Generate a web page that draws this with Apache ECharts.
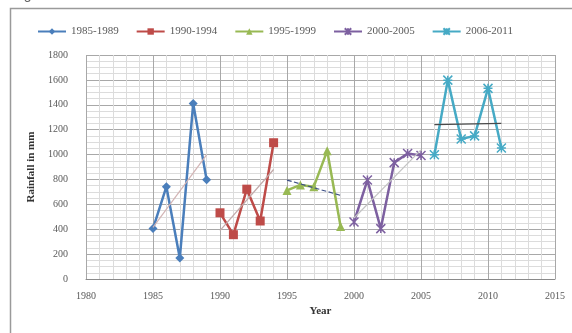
<!DOCTYPE html>
<html>
<head>
<meta charset="utf-8">
<script src="https://cdn.jsdelivr.net/npm/echarts@6/dist/echarts.min.js"></script>
<style>
html,body{margin:0;padding:0;background:#fff;}
#c{width:572px;height:333px;}
</style>
</head>
<body>
<div id="c"></div>
<script>
var seriesNames = ['1985-1989', '1990-1994', '1995-1999', '2000-2005', '2006-2011'];
var years1 = [1985, 1986, 1987, 1988, 1989];
var rain1 = [405, 742, 168, 1410, 798];
var years2 = [1990, 1991, 1992, 1993, 1994];
var rain2 = [532, 356, 722, 466, 1095];
var years3 = [1995, 1996, 1997, 1998, 1999];
var rain3 = [712, 756, 742, 1030, 422];
var years4 = [2000, 2001, 2002, 2003, 2004, 2005];
var rain4 = [458, 795, 405, 935, 1008, 992];
var years5 = [2006, 2007, 2008, 2009, 2010, 2011];
var rain5 = [998, 1598, 1125, 1150, 1532, 1052];
// trendline end points [start, end]
var trend1 = [415, 998];
var trend2 = [388, 880];
var trend3 = [795, 672];
var trend4 = [490, 1038];
var trend5 = [1240, 1250];
var xTicks = [1980, 1985, 1990, 1995, 2000, 2005, 2010, 2015];
var yTicks = [0, 200, 400, 600, 800, 1000, 1200, 1400, 1600, 1800];

var colors = ['#4a7ebb', '#be4b48', '#98b954', '#7d60a0', '#46aac5'];
var symbols = ['diamond', 'rect', 'triangle', 'path://M0,0L10,10M10,0L0,10M5,0L5,10', 'path://M0,0L10,10M10,0L0,10M5,0L5,10M0,5L10,5'];
var symSizes = [9, 9, 9, 9, 9];
var yearsAll = [years1, years2, years3, years4, years5];
var rainAll = [rain1, rain2, rain3, rain4, rain5];
var trendAll = [trend1, trend2, trend3, trend4, trend5];
var trendColors = ['#d2b4b4', '#c0a8a8', '#3c4f86', '#c4c4c4', '#4a4a4a'];
var trendTypes = ['solid', 'solid', 'dashed', 'solid', 'solid'];

var series = [];
for (var i = 0; i < 5; i++) {
  var ys = yearsAll[i], tr = trendAll[i];
  series.push({
    name: seriesNames[i] + ' trend',
    type: 'line',
    data: [[ys[0], tr[0]], [ys[ys.length - 1], tr[1]]],
    symbol: 'none',
    lineStyle: {color: trendColors[i], width: 1.2, type: trendTypes[i]},
    silent: true,
    z: 3
  });
}
function pairs(ys, vs) { return ys.map(function (y, k) { return [y, vs[k]]; }); }
for (var j = 0; j < 5; j++) {
  var isPath = symbols[j].indexOf('path://') === 0;
  series.push({
    name: seriesNames[j],
    type: 'line',
    data: pairs(yearsAll[j], rainAll[j]),
    symbol: symbols[j],
    symbolSize: symSizes[j],
    showAllSymbol: true,
    lineStyle: {color: colors[j], width: 2.5},
    itemStyle: isPath ? {color: colors[j], borderColor: colors[j], borderWidth: 1.5} : {color: colors[j]},
    z: 2
  });
}

var chart = echarts.init(document.getElementById('c'), null, {renderer: 'canvas'});
chart.setOption({
  animation: false,
  backgroundColor: '#fff',
  color: colors,
  textStyle: {fontFamily: 'Liberation Serif'},
  graphic: [
    {type: 'rect', shape: {x: 10.5, y: 8.5, width: 570, height: 340}, style: {fill: 'none', stroke: '#9a9a9a', lineWidth: 1.5}, silent: true},
    {type: 'text', left: 12, top: -12, style: {text: 'Figure 3', font: '14px "Liberation Sans"', fill: '#666'}, silent: true}
  ],
  legend: {
    data: seriesNames,
    top: 21,
    left: 32,
    itemGap: 17,
    itemWidth: 28,
    itemHeight: 8,
    textStyle: {fontFamily: 'Liberation Serif', fontSize: 11, color: '#595959'}
  },
  grid: {left: 86, right: 17, top: 55, bottom: 54},
  xAxis: {
    type: 'value',
    min: 1980, max: 2015, interval: 5,
    name: 'Year', nameLocation: 'middle', nameGap: 21,
    nameTextStyle: {fontFamily: 'Liberation Serif', fontWeight: 'bold', fontSize: 11, color: '#333'},
    axisLine: {show: true, lineStyle: {color: '#8a8a8a'}},
    axisTick: {show: false},
    axisLabel: {fontFamily: 'Liberation Serif', fontSize: 10, color: '#595959', margin: 12,
      formatter: function (v) { return xTicks.indexOf(v) >= 0 ? String(v) : ''; }},
    splitLine: {show: true, lineStyle: {color: '#a8a8a8', width: 1}},
    minorTick: {show: false, splitNumber: 5},
    minorSplitLine: {show: true, lineStyle: {color: '#dcdcdc', width: 1}}
  },
  yAxis: {
    type: 'value',
    min: 0, max: 1800, interval: 200,
    name: 'Rainfall in mm', nameLocation: 'middle', nameGap: 41,
    nameTextStyle: {fontFamily: 'Liberation Serif', fontWeight: 'bold', fontSize: 11, color: '#333'},
    axisLine: {show: false},
    axisTick: {show: false},
    axisLabel: {fontFamily: 'Liberation Serif', fontSize: 10, color: '#595959', margin: 18,
      formatter: function (v) { return yTicks.indexOf(v) >= 0 ? String(v) : ''; }},
    splitLine: {show: true, lineStyle: {color: '#a8a8a8', width: 1}},
    minorTick: {show: false, splitNumber: 4},
    minorSplitLine: {show: true, lineStyle: {color: '#dcdcdc', width: 1}}
  },
  series: series
});
</script>
</body>
</html>
